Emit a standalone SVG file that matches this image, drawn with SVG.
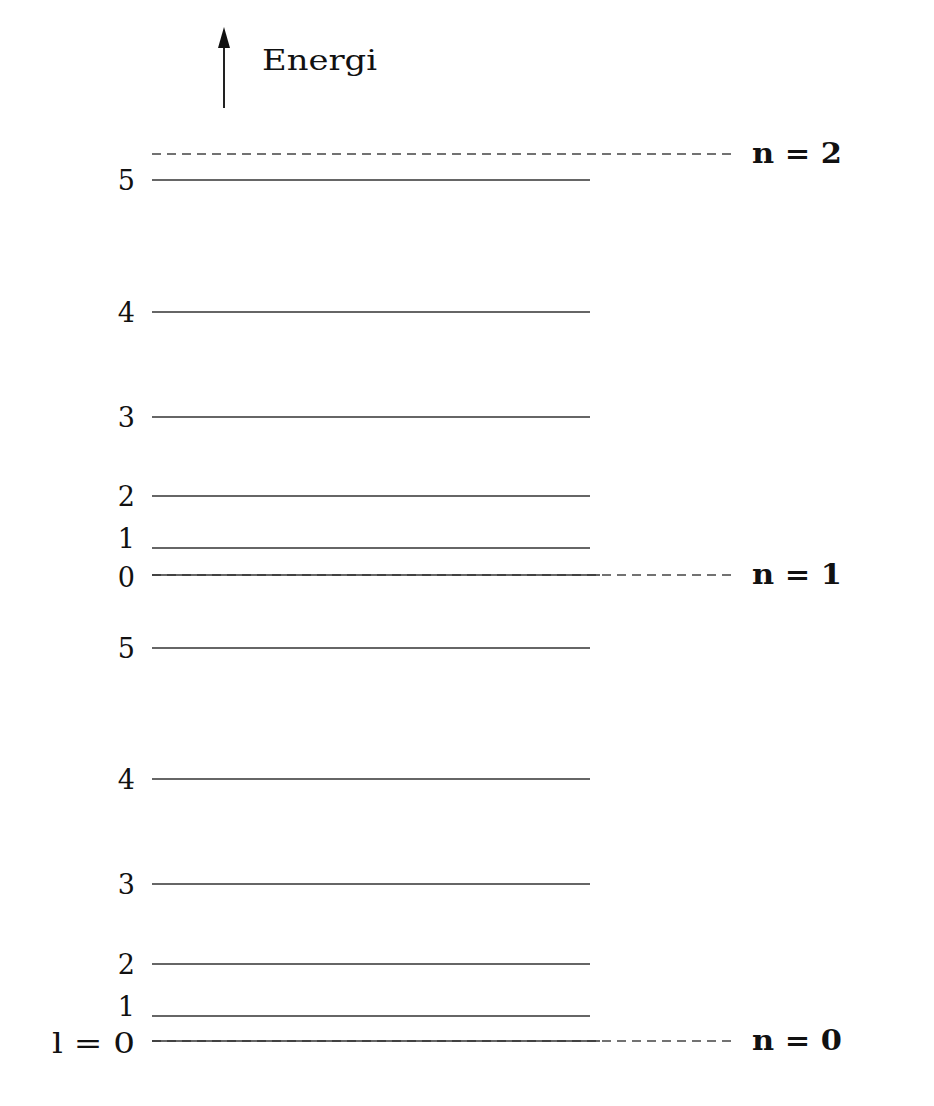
<svg xmlns="http://www.w3.org/2000/svg" width="934" height="1106" viewBox="0 0 934 1106">
<defs>
<marker id="ah" viewBox="0 0 12 20" refX="12" refY="6" markerWidth="20" markerHeight="12" markerUnits="userSpaceOnUse" orient="auto"><path d="M0,0 L20,6 L0,12 z" fill="#111"/></marker>
<style>
.lvl{stroke:#333;stroke-width:1.6;fill:none}
.dash{stroke:#444;stroke-width:1.4;stroke-dasharray:9,6;fill:none}
.lb{font-family:"DejaVu Serif","Liberation Serif",serif;font-size:27px;fill:#111;text-anchor:end}
.nl{font-family:"DejaVu Serif","Liberation Serif",serif;font-size:27px;font-weight:bold;fill:#111}
.en{font-family:"DejaVu Serif","Liberation Serif",serif;font-size:28px;fill:#111}
</style>
</defs>
<rect width="934" height="1106" fill="#fff"/>
<g id="axis">
<line x1="224" y1="108" x2="224" y2="46" stroke="#222" stroke-width="2"/>
<path d="M224,27 L230,48 L218,48 z" fill="#111"/>
<text class="en" x="262" y="70" textLength="115" lengthAdjust="spacingAndGlyphs">Energi</text>
</g>
<g id="connectors">
<line class="dash" x1="152" y1="154" x2="735" y2="154"/>
<line class="dash" x1="152" y1="575" x2="735" y2="575"/>
<line class="dash" x1="152" y1="1041" x2="735" y2="1041"/>
</g>
<g id="shell-n2"><text class="nl" x="752" y="163" textLength="90" lengthAdjust="spacingAndGlyphs">n = 2</text></g>
<g id="shell-n1">
<line class="lvl" x1="152" y1="180" x2="590" y2="180"/><text class="lb" x="135" y="190">5</text>
<line class="lvl" x1="152" y1="312" x2="590" y2="312"/><text class="lb" x="135" y="322">4</text>
<line class="lvl" x1="152" y1="417" x2="590" y2="417"/><text class="lb" x="135" y="427">3</text>
<line class="lvl" x1="152" y1="496" x2="590" y2="496"/><text class="lb" x="135" y="506">2</text>
<line class="lvl" x1="152" y1="548" x2="590" y2="548"/><text class="lb" x="135" y="548">1</text>
<line class="lvl" x1="152" y1="575" x2="600" y2="575"/><text class="lb" x="135" y="587">0</text>
<text class="nl" x="752" y="584" textLength="90" lengthAdjust="spacingAndGlyphs">n = 1</text>
</g>
<g id="shell-n0">
<line class="lvl" x1="152" y1="648" x2="590" y2="648"/><text class="lb" x="135" y="658">5</text>
<line class="lvl" x1="152" y1="779" x2="590" y2="779"/><text class="lb" x="135" y="789">4</text>
<line class="lvl" x1="152" y1="884" x2="590" y2="884"/><text class="lb" x="135" y="894">3</text>
<line class="lvl" x1="152" y1="964" x2="590" y2="964"/><text class="lb" x="135" y="974">2</text>
<line class="lvl" x1="152" y1="1016" x2="590" y2="1016"/><text class="lb" x="135" y="1016">1</text>
<line class="lvl" x1="152" y1="1041" x2="600" y2="1041"/><text class="lb" x="135" y="1053" textLength="83" lengthAdjust="spacingAndGlyphs">l = 0</text>
<text class="nl" x="752" y="1050" textLength="90" lengthAdjust="spacingAndGlyphs">n = 0</text>
</g>
</svg>
